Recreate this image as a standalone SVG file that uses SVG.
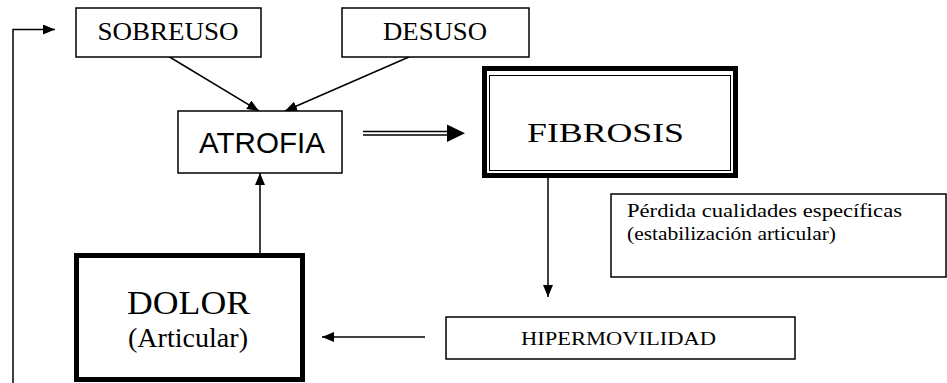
<svg xmlns="http://www.w3.org/2000/svg" width="947" height="383" viewBox="0 0 947 383">
<style>
.box{fill:#fff;stroke:#000;stroke-width:1.5}
.ln{fill:none;stroke:#000;stroke-width:1.5}
.slab{font-family:"Liberation Serif","Times New Roman",serif;fill:#000}
.sans{font-family:"Liberation Sans",Arial,sans-serif;fill:#000}
.serif{font-family:"Liberation Serif","Times New Roman",serif;fill:#000}
</style>
<defs>
<marker id="ah" markerUnits="userSpaceOnUse" markerWidth="12" markerHeight="10" refX="12" refY="5" orient="auto">
<path d="M0,0 L12,5 L0,10 Z" fill="#000"/>
</marker>
</defs>
<rect width="947" height="383" fill="#fff"/>
<g id="connectors">
<path class="ln" d="M13,383 V29.5 H55" marker-end="url(#ah)"/>
<path class="ln" d="M158,50 L259,111" marker-end="url(#ah)"/>
<path class="ln" d="M425,50 L285,111" marker-end="url(#ah)"/>
<path class="ln" d="M260,253 V173" marker-end="url(#ah)"/>
<path class="ln" d="M548,178 V297" marker-end="url(#ah)"/>
<path class="ln" d="M425,337 H322" marker-end="url(#ah)"/>
<path class="ln" d="M363,131.5 H450 M363,135 H450"/>
<path d="M447,124.5 L465,133.25 L447,142 Z" fill="#000"/>
</g>
<g id="sobreuso">
<rect class="box" x="76" y="8" width="185" height="49"/>
<text class="slab" x="168" y="40" font-size="25" text-anchor="middle" textLength="141" lengthAdjust="spacingAndGlyphs">SOBREUSO</text>
</g>
<g id="desuso">
<rect class="box" x="342" y="8" width="187" height="49"/>
<text class="slab" x="435" y="40" font-size="25" text-anchor="middle" textLength="104" lengthAdjust="spacingAndGlyphs">DESUSO</text>
</g>
<g id="atrofia">
<rect class="box" x="178" y="111" width="164" height="62"/>
<text class="sans" x="262" y="153" font-size="29" text-anchor="middle" textLength="126" lengthAdjust="spacingAndGlyphs">ATROFIA</text>
</g>
<g id="fibrosis">
<rect x="484.5" y="68.5" width="251" height="107" fill="#fff" stroke="#000" stroke-width="5"/>
<rect x="489.5" y="75.5" width="241" height="95" fill="none" stroke="#000" stroke-width="1"/>
<text class="slab" x="605.5" y="142" font-size="27" text-anchor="middle" textLength="157" lengthAdjust="spacingAndGlyphs">FIBROSIS</text>
</g>
<g id="perdida">
<rect class="box" x="611" y="194" width="335" height="83"/>
<text class="serif" x="627" y="217" font-size="18" textLength="275" lengthAdjust="spacingAndGlyphs">Pérdida cualidades específicas</text>
<text class="serif" x="627" y="240" font-size="18" textLength="209" lengthAdjust="spacingAndGlyphs">(estabilización articular)</text>
</g>
<g id="hipermovilidad">
<rect class="box" x="446" y="317" width="349" height="42"/>
<text class="slab" x="618.5" y="345" font-size="19" text-anchor="middle" textLength="195" lengthAdjust="spacingAndGlyphs">HIPERMOVILIDAD</text>
</g>
<g id="dolor">
<rect x="76.5" y="255.5" width="226" height="124" fill="#fff" stroke="#000" stroke-width="5"/>
<text class="serif" x="188.5" y="314" font-size="33" text-anchor="middle" textLength="123" lengthAdjust="spacingAndGlyphs">DOLOR</text>
<text class="serif" x="188" y="347" font-size="27" text-anchor="middle" textLength="120" lengthAdjust="spacingAndGlyphs">(Articular)</text>
</g>
</svg>
